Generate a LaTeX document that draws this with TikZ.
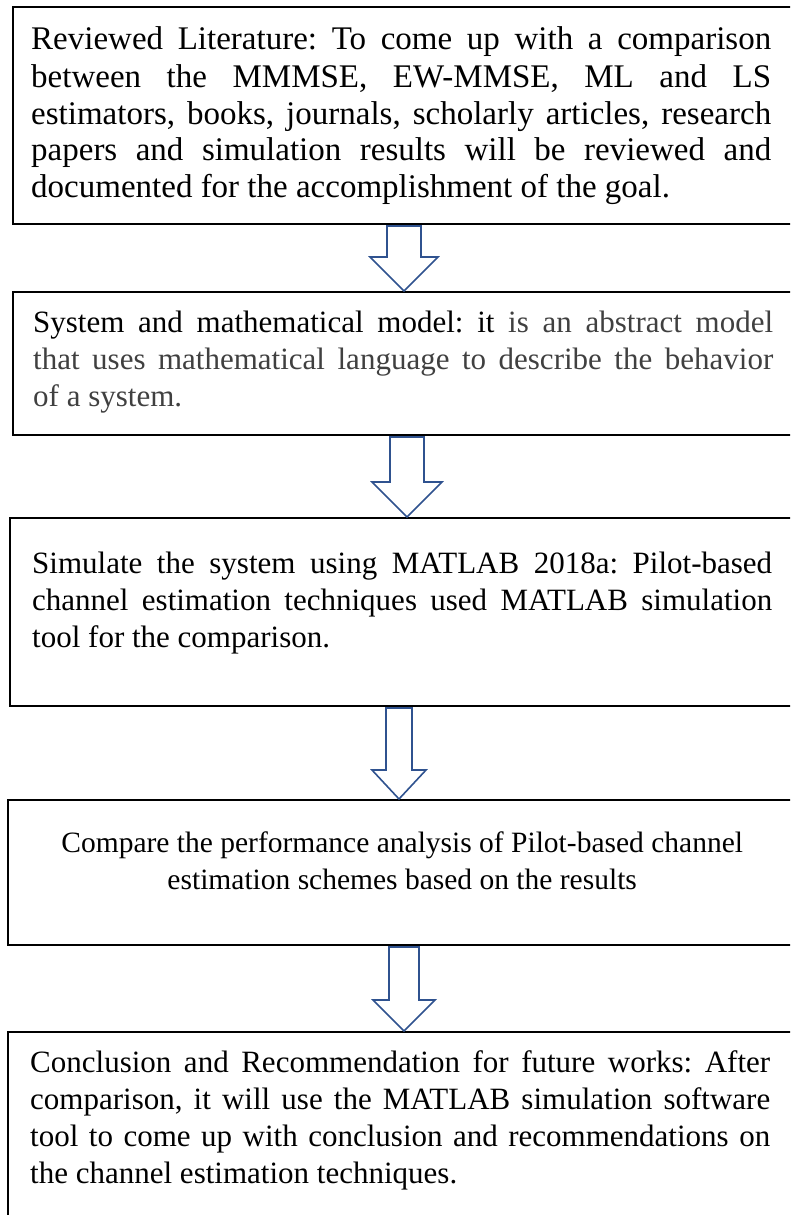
\documentclass[tikz,border=0pt]{standalone}
\usepackage{fontspec}
\setmainfont{Liberation Serif}
\usetikzlibrary{positioning,calc}
\definecolor{arrowblue}{RGB}{47,82,143}
\definecolor{softgrey}{RGB}{64,64,64}
\newcommand{\jline}[1]{\makebox[740pt][s]{#1}}
\newcommand{\stagepar}[1]{\parbox[t]{740pt}{\frenchspacing #1}}

\begin{document}
\begin{tikzpicture}[x=1pt, y=1pt,
		stagebox/.style={draw, line width=2pt, rectangle, anchor=north west, inner sep=0pt},
		stagetext/.style={anchor=base west, inner sep=0pt, font=\fontsize{31}{37}\selectfont},
		flowarrow/.style={draw=arrowblue, line width=1.6pt, fill=white, line join=miter}]
		\useasboundingbox (0,0) rectangle (790,-1215);
		\clip (0,0) rectangle (790,-1215);
		
		% boxes
		\node[stagebox, minimum width=780pt, minimum height=217pt] (lit) at (12,-6) {};
		\node[stagebox, minimum width=780pt, minimum height=143pt] (model) at (12,-291) {};
		\node[stagebox, minimum width=783pt, minimum height=188pt] (sim) at (9,-517) {};
		\node[stagebox, minimum width=785pt, minimum height=145pt] (cmp) at (7,-799) {};
		\node[stagebox, minimum width=785pt, minimum height=220pt] (concl) at (7,-1031) {};
		
		% texts
		\node[stagetext, font=\fontsize{33}{37}\selectfont] (littext) at ($(lit.north west)+(19,-44)$) {\stagepar{%
			\jline{Reviewed Literature: To come up with a comparison}\\
			\jline{between the MMMSE, EW-MMSE, ML and LS}\\
			\jline{estimators, books, journals, scholarly articles, research}\\
			\jline{papers and simulation results will be reviewed and}\\
			documented for the accomplishment of the goal.}};
		\node[stagetext] (modeltext) at ($(model.north west)+(21,-41)$) {\stagepar{%
			\jline{System and mathematical model: it \textcolor{softgrey}{is an abstract model}}\\
			\textcolor{softgrey}{\jline{that uses mathematical language to describe the behavior}}\\
			\textcolor{softgrey}{of a system.}}};
		\node[stagetext] (simtext) at ($(sim.north west)+(23,-56)$) {\stagepar{%
			\jline{Simulate the system using MATLAB 2018a: Pilot-based}\\
			\jline{channel estimation techniques used MATLAB simulation}\\
			tool for the comparison.}};
		\node[stagetext, font=\fontsize{29.5}{37}\selectfont] (cmptext) at ($(cmp.north west)+(25,-53)$) {\stagepar{\centering
			Compare the performance analysis of Pilot-based channel\\
			estimation schemes based on the results}};
		\node[stagetext] (concltext) at ($(concl.north west)+(23,-41)$) {\stagepar{%
			\jline{Conclusion and Recommendation for future works: After}\\
			\jline{comparison, it will use the MATLAB simulation software}\\
			\jline{tool to come up with conclusion and recommendations on}\\
			the channel estimation techniques.}};
		
		% block arrows between the stages
		\foreach \src/\dst/\ax/\sw/\hw/\hl in {lit/model/404/17/34/34, model/sim/407/17/35/35, sim/cmp/399/13/27/29, cmp/concl/404/15/31/31}{
			\coordinate (top) at (\ax,0 |- \src.south);
			\coordinate (tip) at (\ax,0 |- \dst.north);
			\draw[flowarrow] ($(top)+(-\sw,-1)$) -- ($(tip)+(-\sw,\hl)$) -- ($(tip)+(-\hw,\hl)$) -- (tip)
				-- ($(tip)+(\hw,\hl)$) -- ($(tip)+(\sw,\hl)$) -- ($(top)+(\sw,-1)$) -- cycle;
		}
	\end{tikzpicture}
\end{document}
